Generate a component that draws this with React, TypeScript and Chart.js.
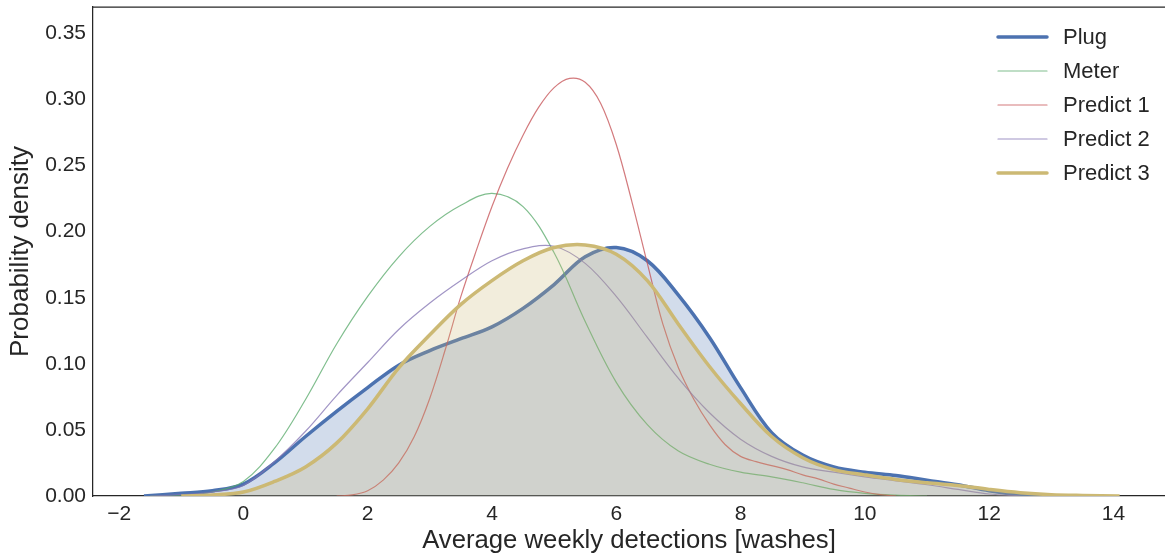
import React, { useEffect, useRef } from "react";
import { Chart, registerables } from "chart.js";

Chart.register(...registerables);

// ---- Data ----
const seriesLabels = ["Plug", "Meter", "Predict 1", "Predict 2", "Predict 3"];

const plugX = [-1.6, -1.0, -0.5, 0, 0.5, 1.0, 1.5, 2.0, 2.5, 3.0, 3.5, 4.0, 4.5, 5.0, 5.5, 6.0, 6.5, 7.0, 7.5, 8.0, 8.5, 9.0, 9.5, 10.0, 10.5, 11.0, 11.5, 12.0, 12.5, 13.0];
const plugY = [0, 0.002, 0.004, 0.009, 0.025, 0.045, 0.064, 0.082, 0.099, 0.110, 0.119, 0.128, 0.142, 0.160, 0.181, 0.188, 0.178, 0.152, 0.120, 0.082, 0.048, 0.031, 0.022, 0.018, 0.0155, 0.012, 0.0085, 0.004, 0.001, 0];

const meterX = [-1.5, -1.0, -0.5, 0, 0.5, 1.0, 1.5, 2.0, 2.5, 3.0, 3.5, 4.0, 4.5, 5.0, 5.5, 6.0, 6.5, 7.0, 7.5, 8.0, 8.5, 9.0, 9.5, 10.0, 10.5, 11.0];
const meterY = [0, 0.0005, 0.003, 0.011, 0.036, 0.073, 0.115, 0.151, 0.181, 0.204, 0.220, 0.229, 0.219, 0.184, 0.132, 0.086, 0.054, 0.034, 0.024, 0.018, 0.0145, 0.010, 0.005, 0.002, 0.0006, 0];

const pred1X = [1.5, 1.75, 2.0, 2.25, 2.5, 2.75, 3.0, 3.25, 3.5, 3.75, 4.0, 4.25, 4.5, 4.75, 5.0, 5.25, 5.5, 5.75, 6.0, 6.25, 6.5, 6.75, 7.0, 7.25, 7.5, 7.75, 8.0, 8.25, 8.5, 8.75, 9.0, 9.25, 9.5, 9.75, 10.0, 10.25, 10.5];
const pred1Y = [0, 0.0008, 0.004, 0.012, 0.025, 0.045, 0.074, 0.111, 0.151, 0.186, 0.219, 0.248, 0.273, 0.294, 0.309, 0.316, 0.313, 0.297, 0.266, 0.223, 0.176, 0.130, 0.097, 0.073, 0.054, 0.039, 0.030, 0.026, 0.023, 0.020, 0.016, 0.013, 0.009, 0.006, 0.003, 0.001, 0];

const pred2X = [-1.5, -1.0, -0.5, 0, 0.5, 1.0, 1.5, 2.0, 2.5, 3.0, 3.5, 4.0, 4.5, 5.0, 5.5, 6.0, 6.5, 7.0, 7.5, 8.0, 8.5, 9.0, 9.5, 10.0, 10.5, 11.0, 11.5, 12.0, 12.5];
const pred2Y = [0, 0.001, 0.003, 0.008, 0.026, 0.049, 0.076, 0.101, 0.126, 0.146, 0.163, 0.178, 0.187, 0.189, 0.176, 0.151, 0.120, 0.089, 0.063, 0.043, 0.030, 0.022, 0.018, 0.0145, 0.0115, 0.0085, 0.005, 0.0015, 0];

const pred3X = [-1.0, -0.5, 0, 0.5, 1.0, 1.5, 2.0, 2.5, 3.0, 3.5, 4.0, 4.5, 5.0, 5.5, 6.0, 6.5, 7.0, 7.5, 8.0, 8.5, 9.0, 9.5, 10.0, 10.5, 11.0, 11.5, 12.0, 12.5, 13.0, 13.5, 14.1];
const pred3Y = [0, 0.0008, 0.003, 0.011, 0.022, 0.040, 0.066, 0.097, 0.122, 0.145, 0.163, 0.178, 0.188, 0.190, 0.183, 0.163, 0.130, 0.098, 0.070, 0.045, 0.029, 0.020, 0.016, 0.0125, 0.010, 0.008, 0.005, 0.0025, 0.001, 0.0004, 0];

const xTickValues = [-2, 0, 2, 4, 6, 8, 10, 12, 14];
const yTickValues = [0, 0.05, 0.1, 0.15, 0.2, 0.25, 0.3, 0.35];

const xLabel = "Average weekly detections [washes]";
const yLabel = "Probability density";

// ---- Styling ----
const FONT = "'Liberation Sans', Arial, sans-serif";
const TEXT = "#262626";
const SPINE = "#262626";

function pts(xs: number[], ys: number[]) {
  return xs.map((x, i) => ({ x, y: ys[i] }));
}

const topSpine = {
  id: "topSpine",
  afterDraw(chart: any) {
    const { ctx, chartArea } = chart;
    ctx.save();
    ctx.strokeStyle = SPINE;
    ctx.lineWidth = 1.25;
    ctx.beginPath();
    ctx.moveTo(chartArea.left, chartArea.top);
    ctx.lineTo(chartArea.right, chartArea.top);
    ctx.stroke();
    ctx.restore();
  },
};

const legendPlugin = {
  id: "customLegend",
  afterDraw(chart: any) {
    const { ctx } = chart;
    const x0 = 998;
    const x1 = 1047;
    const tx = 1063;
    const y0 = 37;
    const dy = 34;
    ctx.save();
    chart.data.datasets.forEach((ds: any, i: number) => {
      const y = y0 + i * dy;
      ctx.strokeStyle = ds.borderColor;
      ctx.lineWidth = ds.borderWidth;
      ctx.lineCap = "round";
      ctx.beginPath();
      ctx.moveTo(x0, y);
      ctx.lineTo(x1, y);
      ctx.stroke();
      ctx.fillStyle = TEXT;
      ctx.font = `22px ${FONT}`;
      ctx.textBaseline = "middle";
      ctx.textAlign = "left";
      ctx.fillText(ds.label, tx, y + 1);
    });
    ctx.restore();
  },
};

export default function App() {
  const canvasRef = useRef<HTMLCanvasElement | null>(null);

  useEffect(() => {
    const canvas = canvasRef.current;
    if (!canvas) return;
    const common = {
      pointRadius: 0,
      pointHoverRadius: 0,
      tension: 0.35,
    };
    const chart = new Chart(canvas, {
      type: "line",
      data: {
        datasets: [
          {
            ...common,
            label: seriesLabels[0],
            data: pts(plugX, plugY),
            borderColor: "#4C72B0",
            backgroundColor: "rgba(76,114,176,0.25)",
            borderWidth: 3.5,
            fill: "origin",
            order: 5,
          },
          {
            ...common,
            label: seriesLabels[1],
            data: pts(meterX, meterY),
            borderColor: "rgba(85,168,104,0.75)",
            borderWidth: 1.2,
            fill: false,
            order: 4,
          },
          {
            ...common,
            label: seriesLabels[2],
            data: pts(pred1X, pred1Y),
            borderColor: "rgba(196,78,82,0.75)",
            borderWidth: 1.2,
            fill: false,
            order: 3,
          },
          {
            ...common,
            label: seriesLabels[3],
            data: pts(pred2X, pred2Y),
            borderColor: "rgba(129,114,178,0.75)",
            borderWidth: 1.2,
            fill: false,
            order: 2,
          },
          {
            ...common,
            label: seriesLabels[4],
            data: pts(pred3X, pred3Y),
            borderColor: "#CCB974",
            backgroundColor: "rgba(204,185,116,0.25)",
            borderWidth: 3.5,
            fill: "origin",
            order: 1,
          },
        ],
      },
      options: {
        animation: false,
        responsive: false,
        devicePixelRatio: 1,
        events: [],
        layout: { padding: { top: 7, right: 0, left: 0, bottom: 0 } },
        plugins: {
          legend: { display: false },
          tooltip: { enabled: false },
        },
        scales: {
          x: {
            type: "linear",
            min: -2.42,
            max: 14.83,
            afterFit: (scale: any) => {
              scale.height = 63;
              scale.paddingLeft = 0;
              scale.paddingRight = 0;
            },
            afterBuildTicks: (scale: any) => {
              scale.ticks = xTickValues.map((v) => ({ value: v }));
            },
            grid: { display: true, drawOnChartArea: false, drawTicks: false },
            border: { display: true, color: SPINE, width: 1.25 },
            ticks: {
              padding: 6,
              color: TEXT,
              font: { family: FONT, size: 21 },
              callback: (v: any) => (Number(v) < 0 ? "\u2212" + Math.abs(Number(v)) : String(v)),
              maxRotation: 0,
              autoSkip: false,
            },
            title: {
              display: true,
              text: xLabel,
              color: TEXT,
              font: { family: FONT, size: 25.7 },
              padding: { top: 0, bottom: 3 },
            },
          },
          y: {
            type: "linear",
            min: 0,
            max: 0.37,
            afterFit: (scale: any) => {
              scale.width = 93;
              scale.paddingTop = 0;
              scale.paddingBottom = 0;
            },
            afterBuildTicks: (scale: any) => {
              scale.ticks = yTickValues.map((v) => ({ value: v }));
            },
            grid: { display: true, drawOnChartArea: false, drawTicks: false },
            border: { display: true, color: SPINE, width: 1.25 },
            ticks: {
              padding: 7,
              color: TEXT,
              font: { family: FONT, size: 21 },
              callback: (v: any) => Number(v).toFixed(2),
              autoSkip: false,
            },
            title: {
              display: true,
              text: yLabel,
              color: TEXT,
              font: { family: FONT, size: 26 },
              padding: { top: 5, bottom: 0 },
            },
          },
        },
      },
      plugins: [topSpine, legendPlugin],
    });
    return () => chart.destroy();
  }, []);

  return (
    <div style={{ position: "fixed", left: 0, top: 0, width: 1165, height: 559, background: "#fff" }}>
      <canvas ref={canvasRef} width={1165} height={559} style={{ display: "block", width: 1165, height: 559 }} />
    </div>
  );
}
